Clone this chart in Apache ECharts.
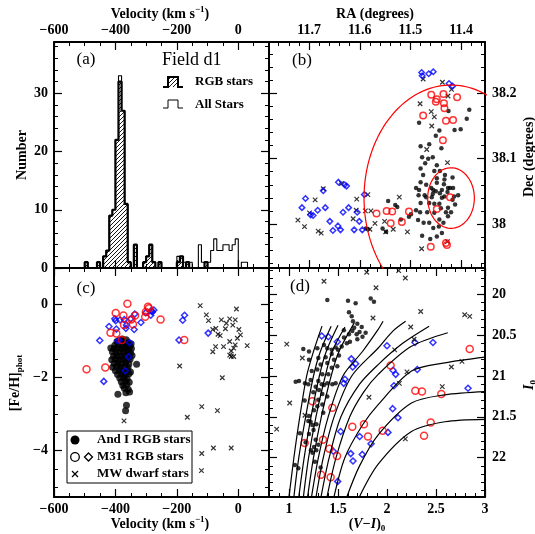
<!DOCTYPE html>
<html><head><meta charset="utf-8">
<script src="https://cdn.jsdelivr.net/npm/echarts@6/dist/echarts.min.js"></script>
<style>html,body{margin:0;padding:0;background:#fff}#c{width:535px;height:534px}</style>
</head><body><div id="c"></div>
<script>
// ---------------- DATA ----------------
// (a) histogram, 10 km/s bins (left edges)
const histBinLeft = [-510,-500,-490,-480,-470,-460,-450,-440,-430,-420,-410,-400,-390,-380,-370,-360,-350,-340,-330,-320,-310,-300,-290,-280,-270,-260,-250,-240,-230,-220,-210,-200,-190,-180,-170,-160,-150,-140,-130,-120,-110,-100,-90,-80,-70,-60,-50,-40,-30,-20,-10,0,10,20,30];
const rgbCounts = [0,1,0,0,0,1,0,2,3,9,10,22,32,27,11,1,0,4,0,0,1,2,4,1,0,1,0,0,0,0,0,1,2,0,1,0,0,0,0,0,1,0,0,0,0,0,0,0,0,0,0,0,0,0,0];
const allCounts = [0,1,0,0,0,1,0,2,3,9,10,22,33,27,11,1,0,4,0,0,1,2,4,1,0,1,0,0,0,0,0,2,2,1,1,1,0,0,4,1,1,1,3,5,3,3,4,4,3,4,5,0,1,1,0];
const binWidth = 10;

// (b) RA / Dec
const bAndI = [[11.384,38.175],[11.389,38.161],[11.425,38.173],[11.483,38.155],[11.401,38.145],[11.413,38.144],[11.443,38.143],[11.450,38.135],[11.480,38.119],[11.439,38.116],[11.456,38.102],[11.465,38.100],[11.480,38.085],[11.453,38.081],[11.475,38.075],[11.417,38.071],[11.448,38.070],[11.433,38.068],[11.480,38.064],[11.489,38.055],[11.459,38.055],[11.455,38.052],[11.434,38.061],[11.426,38.055],[11.422,38.055],[11.438,38.052],[11.416,38.055],[11.427,38.049],[11.472,38.044],[11.456,38.046],[11.442,38.047],[11.484,38.044],[11.469,38.041],[11.458,38.041],[11.438,38.040],[11.433,38.042],[11.414,38.042],[11.417,38.037],[11.463,38.032],[11.453,38.031],[11.443,38.031],[11.440,38.024],[11.480,38.032],[11.412,38.030],[11.453,38.017],[11.426,38.012],[11.443,38.007],[11.474,38.002],[11.463,38.002],[11.435,38.002],[11.444,37.996],[11.438,37.986],[11.448,37.981],[11.461,37.977],[11.544,38.035],[11.530,38.029],[11.526,38.026],[11.499,38.015],[11.503,38.011],[11.555,37.993],[11.519,38.007],[11.548,37.988],[11.588,37.993],[11.584,37.992],[11.448,38.063],[11.469,38.060],[11.432,38.075],[11.448,38.090],[11.471,38.093],[11.426,38.025],[11.467,38.018],[11.430,38.018],[11.481,38.018],[11.455,37.994],[11.477,37.982],[11.489,38.021],[11.483,38.052],[11.406,38.044],[11.420,38.018],[11.450,38.050],[11.442,38.081],[11.463,38.122],[11.477,38.102],[11.485,38.006]];
const bM31circ = [[11.459,38.198],[11.435,38.199],[11.448,38.191],[11.450,38.187],[11.434,38.185],[11.433,38.177],[11.408,38.194],[11.475,38.166],[11.430,38.158],[11.416,38.159],[11.436,38.128],[11.422,38.041],[11.448,38.023],[11.460,37.965],[11.430,37.971],[11.428,37.968],[11.547,38.020],[11.536,38.019],[11.539,38.001],[11.517,38.003],[11.503,38.019],[11.567,38.016]];
const bM31diam = [[11.714,38.025],[11.707,38.039],[11.697,38.014],[11.692,38.013],[11.683,38.021],[11.672,38.051],[11.668,38.025],[11.659,38.004],[11.653,37.990],[11.642,38.064],[11.643,37.997],[11.638,37.991],[11.633,38.018],[11.630,38.060],[11.626,38.058],[11.622,38.025],[11.611,37.991],[11.605,38.018],[11.601,38.004],[11.595,37.991],[11.591,38.045],[11.478,38.232],[11.477,38.227],[11.464,38.230],[11.455,38.233],[11.424,38.215],[11.417,38.211]];
const bMW = [[11.722,38.006],[11.709,37.996],[11.688,38.037],[11.699,38.017],[11.682,37.989],[11.676,37.986],[11.672,38.054],[11.636,38.062],[11.613,38.008],[11.606,38.038],[11.607,38.021],[11.589,38.020],[11.584,38.045],[11.578,38.020],[11.570,38.001],[11.580,37.992],[11.551,38.004],[11.549,37.988],[11.534,37.992],[11.522,38.041],[11.506,37.988],[11.478,37.962],[11.475,38.222],[11.437,38.217],[11.419,38.206],[11.426,38.196],[11.481,38.184],[11.459,38.172],[11.453,38.164],[11.458,38.150],[11.468,38.114],[11.427,38.094],[11.427,37.973]];
// ellipses: centre RA, Dec, semi-axes (deg)
const ellipseCentre = [11.420, 38.0397];
const ellipseInner = [0.046, 0.0464];
const ellipseOuter = [0.1716, 0.173];

// (c) velocity vs [Fe/H]
const cAndI = [[-378,-0.95],[-365,-0.97],[-395,-1.02],[-384,-1.0],[-372,-1.03],[-358,-1.05],[-349,-1.08],[-402,-1.12],[-389,-1.1],[-376,-1.13],[-364,-1.1],[-353,-1.15],[-415,-1.2],[-404,-1.22],[-393,-1.19],[-381,-1.22],[-370,-1.2],[-359,-1.24],[-348,-1.21],[-410,-1.3],[-398,-1.33],[-386,-1.3],[-374,-1.32],[-362,-1.29],[-351,-1.33],[-406,-1.42],[-394,-1.4],[-381,-1.43],[-369,-1.4],[-356,-1.44],[-346,-1.4],[-412,-1.52],[-400,-1.5],[-388,-1.53],[-376,-1.5],[-364,-1.54],[-352,-1.5],[-404,-1.62],[-392,-1.6],[-379,-1.63],[-367,-1.6],[-356,-1.63],[-331,-1.64],[-409,-1.72],[-396,-1.7],[-384,-1.73],[-371,-1.7],[-359,-1.74],[-400,-1.82],[-388,-1.8],[-375,-1.83],[-362,-1.8],[-351,-1.85],[-393,-1.92],[-380,-1.9],[-368,-1.93],[-356,-1.9],[-386,-2.02],[-373,-2.0],[-362,-2.04],[-381,-2.12],[-368,-2.1],[-355,-2.13],[-376,-2.22],[-363,-2.2],[-371,-2.3],[-358,-2.33],[-366,-2.42],[-354,-2.4],[-392,-2.46],[-364,-2.76],[-367,-2.91]];
const cM31circ = [[-494,-1.78],[-433,-1.73],[-361,0.01],[-399,-0.24],[-416,-0.78],[-397,-0.80],[-379,-0.98],[-374,-0.31],[-372,-0.57],[-343,-0.55],[-336,-0.31],[-348,-0.42],[-294,-0.07],[-291,-0.11],[-301,-0.21],[-303,-0.34],[-253,-0.42],[-176,-0.98]];
const cM31diam = [[-451,-0.99],[-421,-0.61],[-402,-0.40],[-399,-0.45],[-397,-0.68],[-388,-0.99],[-392,-1.0],[-371,-0.42],[-385,-0.43],[-364,-0.57],[-339,-0.69],[-337,-0.27],[-354,-1.05],[-357,-1.44],[-368,-1.82],[-317,-0.50],[-301,-0.23],[-285,-0.30],[-280,-0.21],[-275,-0.16],[-283,-0.17],[-438,-2.11],[-193,-0.98],[-181,-0.44],[-175,-0.30],[-98,-0.79],[-350,-0.40],[-366,-0.66]];
const cMW = [[-124,-0.04],[-104,-0.29],[-97,-0.45],[-6,-0.13],[-55,-0.43],[-28,-0.40],[-10,-0.43],[-39,-0.52],[-18,-0.57],[-83,-0.69],[-73,-0.66],[-42,-0.67],[2,-0.69],[-66,-0.82],[-59,-0.86],[7,-0.84],[-3,-0.93],[-28,-1.02],[-74,-1.16],[-48,-1.16],[-10,-1.11],[29,-1.13],[-23,-1.28],[-15,-1.20],[-83,-1.30],[-28,-1.39],[-23,-1.43],[-15,-1.43],[-191,-1.69],[-52,-2.01],[-372,-3.19],[-166,-3.09],[-119,-2.80],[-68,-2.91],[-119,-4.08],[-120,-4.55],[-81,-3.93],[-23,-3.93]];

// (d) colour-magnitude
const dAndI = [[1.391,20.07],[1.602,20.08],[1.834,20.05],[1.68,20.11],[1.867,20.09],[1.612,20.22],[1.64,20.27],[1.653,20.33],[1.697,20.36],[1.742,20.40],[1.665,20.41],[1.646,20.45],[1.72,20.46],[1.782,20.47],[1.612,20.49],[1.69,20.49],[1.697,20.55],[1.561,20.53],[1.622,20.58],[1.59,20.60],[1.538,20.64],[1.476,20.65],[1.50,20.68],[1.436,20.68],[1.391,20.66],[1.357,20.62],[1.289,20.66],[1.204,20.70],[1.146,20.67],[1.436,20.73],[1.51,20.75],[1.374,20.77],[1.459,20.80],[1.299,20.78],[1.204,20.80],[1.391,20.84],[1.323,20.86],[1.436,20.90],[1.493,20.88],[1.289,20.92],[1.232,20.94],[1.34,20.98],[1.401,20.98],[1.102,21.06],[1.068,21.07],[1.221,21.05],[1.299,21.06],[1.334,21.10],[1.357,21.11],[1.391,21.09],[1.442,21.10],[1.476,21.09],[1.272,21.13],[1.306,21.17],[1.248,21.20],[1.34,21.22],[1.391,21.25],[1.299,21.29],[1.34,21.35],[1.289,21.37],[1.255,21.42],[1.35,21.45],[1.204,21.49],[1.197,21.55],[1.22,21.56],[1.238,21.60],[1.112,21.70],[1.204,21.71],[1.272,21.78],[1.299,21.84],[1.255,21.87],[1.279,21.91],[1.17,21.81],[1.24,21.94],[1.061,22.09],[1.095,22.13],[1.323,22.12],[1.25,21.66],[1.16,21.30],[1.75,20.52],[1.56,20.44],[1.163,21.09],[1.197,21.10],[1.28,21.59],[1.224,21.91],[1.265,22.05]];
const dM31circ = [[1.238,21.31],[1.442,21.39],[1.16,21.82],[1.347,21.78],[1.412,21.89],[1.49,21.98],[1.327,22.21],[1.425,22.24],[1.646,21.62],[1.765,21.59],[1.806,21.74],[2.037,20.87],[2.844,20.67],[2.289,21.18],[2.357,21.19],[2.554,21.22],[2.446,21.57],[2.378,21.73],[1.956,21.67]];
const dM31diam = [[1.334,20.51],[1.401,20.52],[1.493,20.58],[1.636,20.79],[1.65,20.89],[1.68,20.85],[1.571,21.04],[1.558,21.09],[1.527,21.68],[1.452,21.92],[1.497,22.29],[1.63,21.95],[1.653,22.04],[1.721,21.74],[1.748,21.96],[1.837,21.83],[2.0,20.63],[2.061,20.93],[2.089,20.98],[2.071,21.12],[2.286,20.59],[2.469,20.59],[2.309,20.92],[2.058,21.40],[2.112,21.51],[2.01,21.69],[2.827,21.15]];
const dMW = [[1.357,19.84],[1.793,19.73],[1.888,19.92],[1.857,20.29],[0.977,20.61],[1.136,20.78],[1.007,21.33],[1.163,21.48],[0.874,21.65],[1.816,21.26],[2.119,19.71],[2.187,19.80],[2.344,20.21],[2.242,20.40],[2.276,20.55],[2.078,20.68],[2.793,20.25],[2.844,20.27],[2.204,20.95],[2.126,21.09],[2.657,20.89],[2.765,20.82],[2.564,21.13],[2.187,21.77]];
// RGB tracks
const iso1 = [[1.00,22.48],[1.05,22.0],[1.11,21.5],[1.18,21.0],[1.25,20.7],[1.337,20.39]];
const iso2 = [[1.05,22.48],[1.10,22.0],[1.17,21.5],[1.25,21.0],[1.32,20.7],[1.43,20.39]];
const iso3 = [[1.10,22.48],[1.155,22.0],[1.225,21.5],[1.31,21.0],[1.38,20.7],[1.50,20.38]];
const iso4 = [[1.147,22.48],[1.20,22.0],[1.275,21.5],[1.37,21.0],[1.44,20.7],[1.571,20.40]];
const iso5 = [[1.19,22.48],[1.25,22.0],[1.33,21.5],[1.43,21.0],[1.51,20.7],[1.666,20.35]];
const iso6 = [[1.23,22.48],[1.30,22.0],[1.40,21.5],[1.55,21.0],[1.75,20.7],[1.91,20.43],[1.96,20.33]];
const iso7 = [[1.276,22.48],[1.35,22.0],[1.46,21.5],[1.64,21.0],[1.91,20.657],[2.06,20.45],[2.19,20.33]];
const iso8 = [[1.327,22.48],[1.41,22.0],[1.53,21.5],[1.72,21.1],[1.91,20.86],[2.16,20.6],[2.43,20.39]];
const iso9 = [[1.388,22.48],[1.48,22.0],[1.62,21.5],[1.76,21.2],[1.91,20.98],[2.245,20.64],[2.62,20.47]];
const iso10 = [[1.459,22.48],[1.57,22.0],[1.75,21.6],[1.91,21.35],[2.25,20.94],[2.59,20.84],[3.0,20.77]];
const iso11 = [[1.59,22.48],[1.72,22.1],[1.91,21.72],[2.25,21.33],[2.59,21.23],[3.0,21.19]];
const iso12 = [[1.718,22.48],[1.91,22.08],[2.25,21.68],[2.59,21.56],[3.0,21.53]];
const isochrones = [iso1,iso2,iso3,iso4,iso5,iso6,iso7,iso8,iso9,iso10,iso11,iso12];

// tick values
const velMajor = [-600,-400,-200,0];
const numMajor = [0,10,20,30];
const raMajor = [11.4,11.5,11.6,11.7];
const decMajor = [38,38.1,38.2];
const fehMajor = [-4,-2,0];
const viMajor = [1,1.5,2,2.5,3];
const iMajor = [20,20.5,21,21.5,22];

// ---------------- RENDER ----------------
const FONT = '"Liberation Serif","DejaVu Serif",serif';
function seq(a,b,s){const r=[];const n=Math.round((b-a)/s);for(let i=0;i<=n;i++)r.push(Math.round((a+i*s)*1e6)/1e6);return r;}
const minus = v => (v<0?'\u2212':'') + String(Math.abs(v));

const hatch = document.createElement('canvas');
hatch.width = 4; hatch.height = 4;
(function(){const c=hatch.getContext('2d');c.strokeStyle='#000';c.lineWidth=0.9;c.beginPath();
 c.moveTo(0,4);c.lineTo(4,0);c.moveTo(-1,1);c.lineTo(1,-1);c.moveTo(3,5);c.lineTo(5,3);c.stroke();})();
const hatchPattern = {image: hatch, repeat: 'repeat'};

const grids = [
 {left:54, top:42, width:215, height:226},
 {left:269, top:42, width:216, height:226},
 {left:54, top:268, width:215, height:229},
 {left:269, top:268, width:216, height:229}
];
const xAxes = [], yAxes = [];
function addAxes(g, dim, min, max, inverse, majors, minors, labelSide, margin){
  const arr = dim==='x' ? xAxes : yAxes;
  const sides = dim==='x' ? ['bottom','top'] : ['left','right'];
  const first = arr.length;
  sides.forEach(side=>{
    arr.push({type:'value', gridIndex:g, min, max, inverse, position:side, offset:0, silent:true,
      axisLine:{show:true,onZero:false,lineStyle:{color:'#000',width:2}},
      axisTick:{show:true,inside:true,length:8,customValues:majors,lineStyle:{color:'#000',width:1.2}},
      axisLabel:{show:side===labelSide,customValues:majors,formatter:minus,margin:margin,color:'#000',fontFamily:FONT,fontSize:14,fontWeight:'bold',showMinLabel:true,showMaxLabel:true,hideOverlap:false},
      splitLine:{show:false}, axisPointer:{show:false}});
    arr.push({type:'value', gridIndex:g, min, max, inverse, position:side, offset:0, silent:true,
      axisLine:{show:false,onZero:false},
      axisTick:{show:true,inside:true,length:4,customValues:minors,lineStyle:{color:'#000',width:1}},
      axisLabel:{show:false}, splitLine:{show:false}, axisPointer:{show:false}});
  });
  return first;
}
const XI = [], YI = [];
XI[0] = addAxes(0,'x',-600,100,false,velMajor,seq(-600,100,50),'top',5);
YI[0] = addAxes(0,'y',0,38.8,false,numMajor,seq(0,38,2),'left',6);
XI[1] = addAxes(1,'x',11.353,11.779,true,raMajor,seq(11.36,11.76,0.02),'top',5);
YI[1] = addAxes(1,'y',37.9326,38.2786,false,decMajor,seq(37.94,38.26,0.02),'right',7);
XI[2] = addAxes(2,'x',-600,100,false,velMajor,seq(-600,100,50),'bottom',5);
YI[2] = addAxes(2,'y',-5.27,0.99,false,fehMajor,seq(-5,0.5,0.5),'left',6);
XI[3] = addAxes(3,'x',0.796,3.0,false,viMajor,seq(0.8,3.0,0.1),'bottom',5);
YI[3] = addAxes(3,'y',19.678,22.481,true,iMajor,seq(19.7,22.4,0.1),'right',7);

function stepLine(lefts, counts, w){
  const p=[[lefts[0],0]];
  for(let i=0;i<lefts.length;i++){p.push([lefts[i],counts[i]]);p.push([lefts[i]+w,counts[i]]);}
  p.push([lefts[lefts.length-1]+w,0]);
  return p;
}
const CROSS = 'path://M0,0L10,10M10,0L0,10';
function sc(g, data, kind, size){
  const s = {type:'scatter', xAxisIndex:XI[g], yAxisIndex:YI[g], data, symbolSize:size, silent:true, animation:false, clip:true};
  if(kind==='dot'){s.symbol='circle'; s.itemStyle={color:'#000'};}
  if(kind==='circ'){s.symbol='circle'; s.itemStyle={color:'rgba(0,0,0,0)',borderColor:'#ff0000',borderWidth:1.5};}
  if(kind==='diam'){s.symbol='diamond'; s.itemStyle={color:'rgba(0,0,0,0)',borderColor:'#0000ff',borderWidth:1.5};}
  if(kind==='cross'){s.symbol=CROSS; s.itemStyle={color:'rgba(0,0,0,0)',borderColor:'#000',borderWidth:1.2};}
  return s;
}
function ell(c, ab){
  const pts=[];
  for(let k=0;k<=180;k++){const t=2*Math.PI*k/180;pts.push([c[0]+ab[0]*Math.cos(t), c[1]+ab[1]*Math.sin(t)]);}
  return {type:'line', xAxisIndex:XI[1], yAxisIndex:YI[1], data:pts, symbol:'none', showSymbol:false, clip:true, silent:true,
    lineStyle:{color:'#ff0000', width:1.2}};
}

const series = [];
series.push({type:'line', xAxisIndex:XI[0], yAxisIndex:YI[0], data:stepLine(histBinLeft,allCounts,binWidth), symbol:'none', showSymbol:false, silent:true,
  lineStyle:{color:'#000', width:1.1}});
series.push({type:'line', xAxisIndex:XI[0], yAxisIndex:YI[0], data:stepLine(histBinLeft,rgbCounts,binWidth), symbol:'none', showSymbol:false, silent:true,
  lineStyle:{color:'#000', width:2.2}, areaStyle:{color:hatchPattern, opacity:1}});
series.push(ell(ellipseCentre, ellipseOuter));
series.push(ell(ellipseCentre, ellipseInner));
series.push(sc(1,bMW,'cross',4.5));
series.push(sc(1,bAndI,'dot',4.5));
series.push(sc(1,bM31diam,'diam',5.5));
series.push(sc(1,bM31circ,'circ',6.5));
series.push(sc(2,cAndI,'dot',7));
series.push(sc(2,cM31diam,'diam',6));
series.push(sc(2,cM31circ,'circ',7));
series.push(sc(2,cMW,'cross',4.5));
isochrones.forEach(iso=>series.push({type:'line', xAxisIndex:XI[3], yAxisIndex:YI[3], data:iso, symbol:'none', showSymbol:false, smooth:0.3, clip:true, silent:true, lineStyle:{color:'#000', width:1.2}}));
series.push(sc(3,dAndI,'dot',4.5));
series.push(sc(3,dM31diam,'diam',6));
series.push(sc(3,dM31circ,'circ',7));
series.push(sc(3,dMW,'cross',4.5));

const richT = {
  a:{fontSize:14,fontWeight:'bold',fontFamily:FONT,lineHeight:18},
  it:{fontSize:14,fontWeight:'bold',fontStyle:'italic',fontFamily:FONT,lineHeight:18},
  sup:{fontSize:9,fontWeight:'bold',fontFamily:FONT,verticalAlign:'top'},
  sub:{fontSize:9,fontWeight:'bold',fontFamily:FONT,verticalAlign:'bottom'}
};
function T(x,y,text,opt){
  opt=opt||{};
  return {type:'text', x, y, rotation:opt.rot||0, silent:true, z:100,
    style:Object.assign({text, fill:'#000', fontFamily:FONT, fontSize:opt.size||14, fontWeight:opt.weight||'bold',
      align:opt.align||'center', verticalAlign:'middle', textAlign:opt.align||'center', textVerticalAlign:'middle', rich:richT}, opt.style||{})};
}
const R90 = Math.PI/2;
const graphic = [
  T(160,14,'{a|Velocity (km s}{sup|\u22121}{a|)}'),
  T(375,14,'RA (degrees)'),
  T(22,155,'Number',{rot:R90}),
  T(529,157,'Dec (degrees)',{rot:R90}),
  T(15,383,'{a|[Fe/H]}{sub|phot}',{rot:R90}),
  T(160,524,'{a|Velocity (km s}{sup|\u22121}{a|)}'),
  T(367,524,'{a|(}{it|V}{a|\u2212}{it|I}{a|)}{sub|0}'),
  T(529,385,'{it|I}{sub|0}',{rot:R90}),
  T(86,60,'(a)',{size:17,weight:'normal'}),
  T(162,60,'Field d1',{size:18,weight:'normal',align:'left'}),
  T(302,61,'(b)',{size:17,weight:'normal'}),
  T(86,289,'(c)',{size:17,weight:'normal'}),
  T(300,287,'(d)',{size:17,weight:'normal'}),
  // legend (a)
  {type:'rect', shape:{x:168,y:77,width:10,height:10}, style:{fill:hatchPattern, stroke:null}, silent:true, z:100},
  {type:'polyline', shape:{points:[[163,87],[168,87],[168,77],[178,77],[178,87],[183,87]]}, style:{stroke:'#000', lineWidth:2, fill:null}, silent:true, z:100},
  T(195,82,'RGB stars',{size:13,align:'left'}),
  {type:'polyline', shape:{points:[[163,108],[168,108],[168,100],[178,100],[178,108],[183,108]]}, style:{stroke:'#000', lineWidth:1, fill:null}, silent:true, z:100},
  T(195,105,'All Stars',{size:13,align:'left'}),
  // legend (c)
  {type:'rect', shape:{x:67,y:431,width:125,height:52}, style:{fill:'#fff', stroke:'#000', lineWidth:1}, silent:true, z:99},
  {type:'circle', shape:{cx:75,cy:440,r:4.5}, style:{fill:'#000'}, silent:true, z:100},
  T(97,440,'And I RGB stars',{size:13,align:'left'}),
  {type:'circle', shape:{cx:75,cy:457,r:4.3}, style:{fill:null, stroke:'#000', lineWidth:1.3}, silent:true, z:100},
  {type:'polygon', shape:{points:[[88.5,453],[92.5,457],[88.5,461],[84.5,457]]}, style:{fill:null, stroke:'#000', lineWidth:1.3}, silent:true, z:100},
  T(97,457,'M31 RGB stars',{size:13,align:'left'}),
  {type:'polyline', shape:{points:[[72,471],[78,477]]}, style:{stroke:'#000', lineWidth:1.2, fill:null}, silent:true, z:100},
  {type:'polyline', shape:{points:[[78,471],[72,477]]}, style:{stroke:'#000', lineWidth:1.2, fill:null}, silent:true, z:100},
  T(97,474,'MW dwarf stars',{size:13,align:'left'})
];

const chart = echarts.init(document.getElementById('c'), null, {renderer:'canvas'});
chart.setOption({animation:false, backgroundColor:'#fff', grid:grids, xAxis:xAxes, yAxis:yAxes, series, graphic});
</script></body></html>
